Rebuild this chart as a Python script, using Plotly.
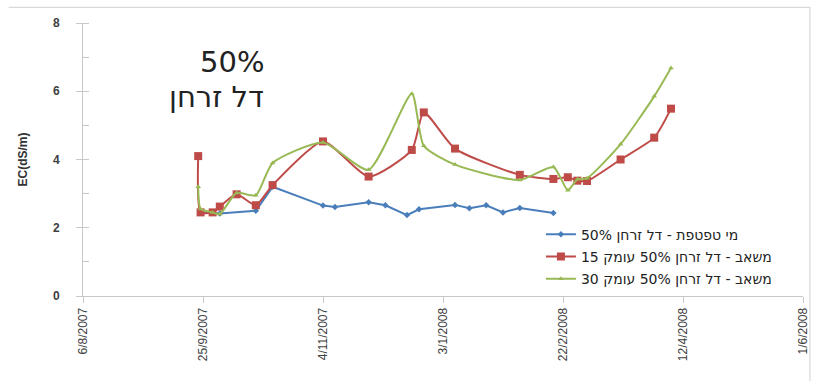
import plotly.graph_objects as go

# ---- data ----
blue_dates = ["2007-09-24", "2007-10-02", "2007-10-17", "2007-10-24", "2007-11-14", "2007-11-19",
              "2007-12-03", "2007-12-10", "2007-12-19", "2007-12-24", "2008-01-08", "2008-01-14",
              "2008-01-21", "2008-01-28", "2008-02-04", "2008-02-18"]
blue_vals = [2.45, 2.42, 2.5, 3.2, 2.65, 2.61, 2.75, 2.66, 2.37, 2.54, 2.67, 2.57, 2.66, 2.45, 2.58, 2.43]

rg_dates = ["2007-09-23", "2007-09-24", "2007-09-29", "2007-10-02", "2007-10-09", "2007-10-17",
            "2007-10-24", "2007-11-14", "2007-12-03", "2007-12-21", "2007-12-26", "2008-01-08",
            "2008-02-04", "2008-02-18", "2008-02-24", "2008-02-28", "2008-03-03", "2008-03-17",
            "2008-03-31", "2008-04-07"]
red_vals = [4.1, 2.45, 2.45, 2.62, 2.98, 2.66, 3.25, 4.53, 3.5, 4.28, 5.38, 4.32,
            3.55, 3.43, 3.48, 3.38, 3.37, 4.0, 4.64, 5.49]
green_vals = [3.2, 2.55, 2.45, 2.4, 3.02, 2.95, 3.9, 4.5, 3.7, 5.93, 4.4, 3.85,
              3.4, 3.78, 3.1, 3.42, 3.45, 4.45, 5.85, 6.68]

names = ["מי טפטפת - דל זרחן 50%", "משאב - דל זרחן 50% עומק 15", "משאב - דל זרחן 50% עומק 30"]
tick_dates = ["2007-08-06", "2007-09-25", "2007-11-14", "2008-01-03", "2008-02-22", "2008-04-12", "2008-06-01"]
tick_text = ["6/8/2007", "25/9/2007", "4/11/2007", "3/1/2008", "22/2/2008", "12/4/2008", "1/6/2008"]

BLUE = "#4a7ebb"
RED = "#be4b48"
GREEN = "#98b954"
FONT = "Liberation Sans, Arial, sans-serif"
WIDE = "DejaVu Sans, sans-serif"

fig = go.Figure()
fig.add_trace(go.Scatter(x=blue_dates, y=blue_vals, name=names[0], mode="lines+markers",
                         legendgroup="a",
                         line=dict(color=BLUE, width=2),
                         marker=dict(symbol="diamond", size=5, color=BLUE)))
fig.add_trace(go.Scatter(x=rg_dates, y=red_vals, name=names[1], mode="lines+markers",
                         legendgroup="b",
                         line=dict(color=RED, width=2, shape="spline", smoothing=0.6),
                         marker=dict(symbol="square", size=8, color=RED)))
fig.add_trace(go.Scatter(x=rg_dates, y=green_vals, name=names[2], mode="lines+markers",
                         legendgroup="c",
                         line=dict(color=GREEN, width=2, shape="spline", smoothing=0.6),
                         marker=dict(symbol="triangle-up", size=5, color=GREEN)))

fig.update_layout(
    width=822, height=381,
    margin=dict(l=83, r=12, t=23, b=85),
    paper_bgcolor="white", plot_bgcolor="white",
    font=dict(family=FONT, color="#404040"),
    showlegend=True,
    legend=dict(x=0.636, y=0.283, xanchor="left", yanchor="top",
                font=dict(size=14, family=WIDE, color="#222222"),
                bgcolor="rgba(255,255,255,0)", tracegroupgap=1, itemwidth=30),
    xaxis=dict(type="date", range=["2007-08-06", "2008-06-01"],
               tickvals=tick_dates, ticktext=tick_text, tickangle=-90,
               tickfont=dict(size=12, color="#404040"),
               showgrid=False, zeroline=False, showline=True, linecolor="#c8c8c8", linewidth=1,
               ticks="outside", ticklen=6, tickcolor="#c8c8c8"),
    yaxis=dict(range=[0, 8], dtick=2, tickfont=dict(size=12, color="#404040", weight="bold"),
               ticklabelstandoff=14,
               showgrid=False, zeroline=False, showline=True, linecolor="#c8c8c8", linewidth=1,
               ticks="outside", ticklen=6, tickcolor="#c8c8c8",
               minor=dict(dtick=1, ticks="inside", ticklen=6, tickcolor="#c8c8c8"),
               title=dict(text="EC(dS/m)", font=dict(size=12, color="#333333", weight="bold"),
                          standoff=22)),
)

fig.add_annotation(text="50%", xref="paper", yref="paper", x=(268 - 83) / 727, y=(296 - 62) / 273.3,
                   xanchor="right", yanchor="middle", showarrow=False,
                   font=dict(size=29, family=WIDE, color="#222222"))
fig.add_annotation(text="דל זרחן", xref="paper", yref="paper", x=(268 - 83) / 727, y=(296 - 97) / 273.3,
                   xanchor="right", yanchor="middle", showarrow=False,
                   font=dict(size=29, family=WIDE, color="#222222"))

# chart frame lines (top and right)
fig.add_shape(type="line", xref="paper", yref="paper", x0=(8 - 83) / 727, x1=(817 - 83) / 727,
              y0=(296 - 7) / 273.3, y1=(296 - 7) / 273.3, line=dict(color="#d0d0d0", width=1))
fig.add_shape(type="line", xref="paper", yref="paper", x0=(817 - 83) / 727, x1=(817 - 83) / 727,
              y0=(296 - 7) / 273.3, y1=(296 - 381) / 273.3, line=dict(color="#d0d0d0", width=1))

fig.write_html("out.html")
